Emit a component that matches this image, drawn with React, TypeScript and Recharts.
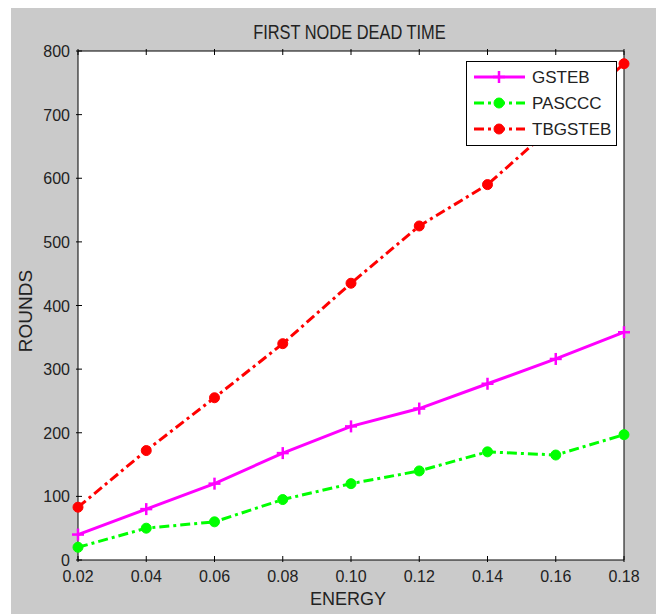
import React from 'react';
import { LineChart, Line, XAxis, YAxis, CartesianGrid } from 'recharts';

const energy = [0.02, 0.04, 0.06, 0.08, 0.1, 0.12, 0.14, 0.16, 0.18];
const gsteb = [40, 80, 120, 168, 210, 238, 277, 316, 358];
const pasccc = [20, 50, 60, 95, 120, 140, 170, 165, 197];
const tbgsteb = [83, 172, 255, 340, 435, 525, 590, 685, 780];
const xTicks = [0.02, 0.04, 0.06, 0.08, 0.1, 0.12, 0.14, 0.16, 0.18];
const yTicks = [0, 100, 200, 300, 400, 500, 600, 700, 800];

const data = energy.map((e, i) => ({ e, GSTEB: gsteb[i], PASCCC: pasccc[i], TBGSTEB: tbgsteb[i] }));

const series = [
  { key: 'GSTEB', color: '#ff00ff', dash: undefined as string | undefined, marker: 'plus' },
  { key: 'PASCCC', color: '#00ff00', dash: '10 4 3 4', marker: 'circle' },
  { key: 'TBGSTEB', color: '#ff0000', dash: '10 4 3 4', marker: 'circle' },
];

const FONT = '"Liberation Sans", Arial, sans-serif';

const Marker = ({ cx, cy, kind, color }: any) => {
  if (cx == null || cy == null) return null;
  if (kind === 'plus') {
    return (
      <g>
        <line x1={cx - 6} y1={cy} x2={cx + 6} y2={cy} stroke={color} strokeWidth={2.5} />
        <line x1={cx} y1={cy - 6} x2={cx} y2={cy + 6} stroke={color} strokeWidth={2.5} />
      </g>
    );
  }
  return <circle cx={cx} cy={cy} r={5} fill={color} stroke={color} strokeWidth={1} />;
};

const BottomTick = ({ x, y, payload }: any) => (
  <g>
    <line x1={x} y1={y} x2={x} y2={y - 6} stroke="#000" strokeWidth={1} />
    <text x={x} y={y + 20} textAnchor="middle" fontSize={16} fontFamily={FONT} fill="#222">
      {Number(payload.value).toFixed(2)}
    </text>
  </g>
);
const TopTick = ({ x, y }: any) => (
  <line x1={x} y1={y} x2={x} y2={y + 6} stroke="#000" strokeWidth={1} />
);
const LeftTick = ({ x, y, payload }: any) => (
  <g>
    <line x1={x} y1={y} x2={x + 6} y2={y} stroke="#000" strokeWidth={1} />
    <text x={x - 6} y={y + 6} textAnchor="end" fontSize={16} fontFamily={FONT} fill="#222">
      {payload.value}
    </text>
  </g>
);
const RightTick = ({ x, y }: any) => (
  <line x1={x} y1={y} x2={x - 6} y2={y} stroke="#000" strokeWidth={1} />
);

const LegendBox = () => (
  <svg width={152} height={86} style={{ display: 'block' }}>
    <rect x={0.5} y={0.5} width={150} height={84} fill="#fff" stroke="#000" strokeWidth={1} />
    {series.map((s, i) => {
      const y = 16 + i * 26;
      return (
        <g key={s.key}>
          <line x1={8} y1={y} x2={59} y2={y} stroke={s.color} strokeWidth={3} strokeDasharray={s.dash} />
          <Marker cx={33} cy={y} kind={s.marker} color={s.color} />
          <text x={66} y={y + 6} fontSize={17} fontFamily={FONT} fill="#222">{s.key}</text>
        </g>
      );
    })}
  </svg>
);

export default function App() {
  return (
    <div style={{ marginLeft: 3, marginTop: -2, width: 650, height: 608, background: '#cacaca', position: 'relative' }}>
      <div style={{ position: 'absolute', left: 0, right: 0, top: 16, textAlign: 'center', fontFamily: FONT, fontSize: 20, color: '#222', lineHeight: '20px', paddingLeft: 27 }}>
        <span style={{ display: 'inline-block', transform: 'scaleX(0.82)', transformOrigin: 'center' }}>FIRST NODE DEAD TIME</span>
      </div>
      <div style={{ position: 'absolute', left: 0, width: 650, top: 583, textAlign: 'center', fontFamily: FONT, fontSize: 18, color: '#222', lineHeight: '20px', paddingLeft: 24, boxSizing: 'border-box' }}>
        ENERGY
      </div>
      <div style={{ position: 'absolute', left: 15, top: 305, transform: 'translate(-50%, -50%) rotate(-90deg)', fontFamily: FONT, fontSize: 19, color: '#222', whiteSpace: 'nowrap', lineHeight: '20px' }}>
        ROUNDS
      </div>
      <div style={{ position: 'absolute', left: 0, top: 0 }}>
        <LineChart width={650} height={608} data={data} margin={{ left: 7, right: 36, top: 44, bottom: 24 }}>
          <CartesianGrid horizontal={false} vertical={false} fill="#fff" xAxisId="b" yAxisId="l" />
          <XAxis dataKey="e" type="number" domain={[0.02, 0.18]} ticks={xTicks} xAxisId="b" orientation="bottom"
            height={30} tickSize={0} tickLine={false} axisLine={{ stroke: '#000' }} tick={<BottomTick />} interval={0} />
          <XAxis dataKey="e" type="number" domain={[0.02, 0.18]} ticks={xTicks} xAxisId="t" orientation="top"
            height={1} tickSize={0} tickLine={false} axisLine={{ stroke: '#000' }} tick={<TopTick />} interval={0} />
          <YAxis type="number" domain={[0, 800]} ticks={yTicks} yAxisId="l" orientation="left"
            width={60} tickSize={0} tickLine={false} axisLine={{ stroke: '#000' }} tick={<LeftTick />} interval={0} />
          <YAxis type="number" domain={[0, 800]} ticks={yTicks} yAxisId="r" orientation="right"
            width={1} tickSize={0} tickLine={false} axisLine={{ stroke: '#000' }} tick={<RightTick />} interval={0} />
          {series.map((s) => (
            <Line key={s.key} xAxisId="b" yAxisId="l" dataKey={s.key} type="linear" stroke={s.color} strokeWidth={3}
              strokeDasharray={s.dash} isAnimationActive={false}
              dot={(p: any) => <Marker key={p.index} cx={p.cx} cy={p.cy} kind={s.marker} color={s.color} />} activeDot={false} />
          ))}
        </LineChart>
      </div>
      <div style={{ position: 'absolute', left: 455, top: 55 }}>
        <LegendBox />
      </div>
    </div>
  );
}
